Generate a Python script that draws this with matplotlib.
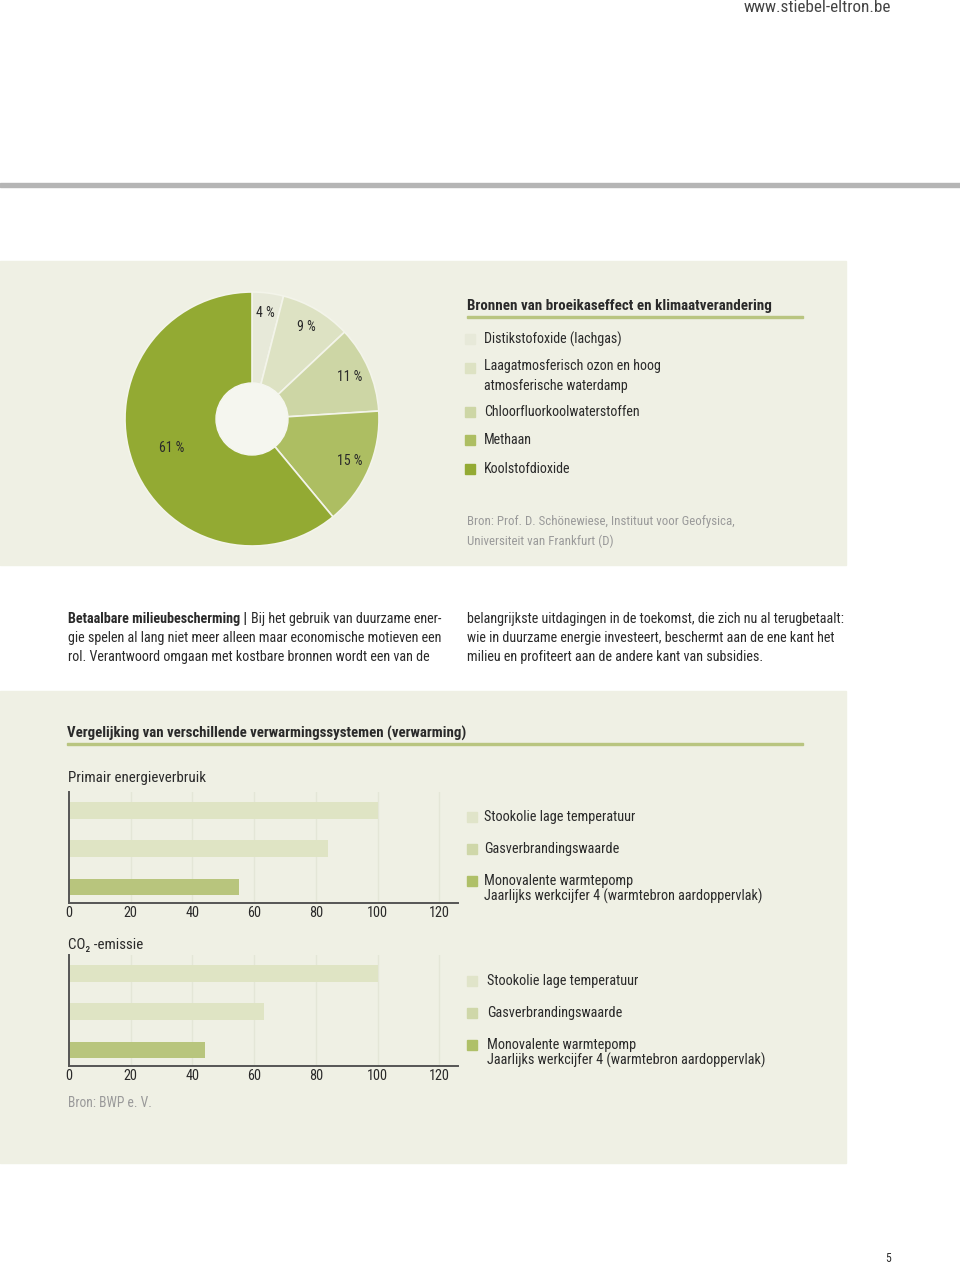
import matplotlib
matplotlib.use('Agg')
import matplotlib.pyplot as plt
from matplotlib import font_manager as fm
from matplotlib.patches import Rectangle, Circle
import numpy as np

# pie data
pie_labels = ['Distikstofoxide (lachgas)',
              'Laagatmosferisch ozon en hoog\natmosferische waterdamp',
              'Chloorfluorkoolwaterstoffen', 'Methaan', 'Koolstofdioxide']
pie_values = [4, 9, 11, 15, 61]
pie_colors = ['#e7e9d9', '#dde2c3', '#cdd6a5', '#adbe62', '#93aa33']

# bar data
systems = ['Stookolie lage temperatuur', 'Gasverbrandingswaarde',
           'Monovalente warmtepomp\nJaarlijks werkcijfer 4 (warmtebron aardoppervlak)']
primary_energy = [100, 84, 55]
co2_emission = [100, 63, 44]
bar_colors = ['#dfe4c4', '#dfe4c4', '#b8c57d']
legend_colors = ['#e0e4c9', '#cfd7a9', '#afc068']
xticks = [0, 20, 40, 60, 80, 100, 120]

names = {f.name for f in fm.fontManager.ttflist}
FONT = 'DejaVu Sans'
for cand in ['Liberation Sans Narrow', 'DejaVu Sans Condensed', 'Roboto Condensed', 'Liberation Sans']:
    if cand in names:
        FONT = cand
        break
plt.rcParams['font.family'] = [FONT, 'DejaVu Sans']

W, H = 960, 1263
BG = '#eff0e4'
fig = plt.figure(figsize=(W / 100, H / 100), dpi=100)
fig.patch.set_facecolor('white')


def fx(x):
    return x / W


def fy(y):
    return 1 - y / H


def txt(x, y, s, **kw):
    kw.setdefault('va', 'center')
    kw.setdefault('fontsize', 10.1)
    kw.setdefault('color', '#2a2a2a')
    return fig.text(fx(x), fy(y), s, **kw)


def rect(x0, y0, x1, y1, color, z=-1):
    fig.patches.append(Rectangle((fx(x0), fy(y1)), (x1 - x0) / W, (y1 - y0) / H,
                                 transform=fig.transFigure, color=color, zorder=z))


# page furniture
txt(891, 7, 'www.stiebel-eltron.be', ha='right', fontsize=12.3, color='#444')
rect(0, 183, 960, 187, '#b5b5b5')
rect(0, 261, 846, 565, BG, -2)
rect(0, 691, 846, 1163, BG, -2)
txt(888, 1259, '5', ha='center', fontsize=8.5)

# pie chart
cx, cy, R = 252, 419, 127
axp = fig.add_axes([fx(cx - R), fy(cy + R), 2 * R / W, 2 * R / H])
axp.set_facecolor('none')
wedges, _ = axp.pie(pie_values, colors=pie_colors, startangle=90, counterclock=False,
                    wedgeprops=dict(edgecolor='#f3f4ea', linewidth=1.2))
axp.add_patch(Circle((0, 0), 36 / R, color='#f5f6ef', zorder=5))
axp.set_xlim(-1, 1)
axp.set_ylim(-1, 1)
axp.set_aspect('equal')
for w, v in zip(wedges, pie_values):
    ang = np.deg2rad((w.theta1 + w.theta2) / 2)
    r = 0.67 if v > 50 else 0.84
    axp.text(r * np.cos(ang), r * np.sin(ang), f'{v} %', ha='center', va='center',
             fontsize=10, color='#2a2a2a', zorder=6)

# pie legend
txt(467, 306, 'Bronnen van broeikaseffect en klimaatverandering', fontweight='bold', fontsize=10.8)
rect(467, 316, 803, 318, '#b9c580')
leg_y = [339, 376, 412, 440, 469]
sq_y = [339, 368, 412, 440, 469]
for yy, sy, lab, c in zip(leg_y, sq_y, pie_labels, pie_colors):
    rect(465, sy - 5, 475, sy + 5, c)
    txt(484, yy, lab, linespacing=1.5)
txt(467, 522, 'Bron: Prof. D. Schönewiese, Instituut voor Geofysica,', color='#9a9a9a', fontsize=9.3)
txt(467, 541, 'Universiteit van Frankfurt (D)', color='#9a9a9a', fontsize=9.3)

# body text
BODY = 10.2
renderer = fig.canvas.get_renderer()
t = txt(68, 619, 'Betaalbare milieubescherming |', fontweight='bold', fontsize=BODY)
bb = t.get_window_extent(renderer)
txt(bb.x1 + 4, 619, 'Bij het gebruik van duurzame ener-', fontsize=BODY)
txt(68, 638, 'gie spelen al lang niet meer alleen maar economische motieven een', fontsize=BODY)
txt(68, 657, 'rol. Verantwoord omgaan met kostbare bronnen wordt een van de', fontsize=BODY)
txt(467, 619, 'belangrijkste uitdagingen in de toekomst, die zich nu al terugbetaalt:', fontsize=BODY)
txt(467, 638, 'wie in duurzame energie investeert, beschermt aan de ene kant het', fontsize=BODY)
txt(467, 657, 'milieu en profiteert aan de andere kant van subsidies.', fontsize=BODY)

# bar section
txt(67, 733, 'Vergelijking van verschillende verwarmingssystemen (verwarming)',
    fontweight='bold', fontsize=10.75)
rect(67, 743, 803, 745, '#b9c580')


def bar_chart(top, bottom, values, title, title_y, leg_text_x, leg_sq_y, leg_txt_y):
    ax = fig.add_axes([fx(69), fy(bottom), (458 - 69) / W, (bottom - top) / H])
    ax.set_facecolor('none')
    pos = np.arange(len(values))
    ax.barh(pos, values, height=0.43, color=bar_colors, zorder=2)
    ax.set_xlim(0, 126)
    ax.set_ylim(2.42, -0.48)
    ax.set_xticks(xticks)
    ax.tick_params(axis='x', length=0, pad=2, labelsize=10.3, labelcolor='#2a2a2a')
    ax.set_yticks([])
    for s in ['top', 'right']:
        ax.spines[s].set_visible(False)
    for s in ['left', 'bottom']:
        ax.spines[s].set_color('#555555')
        ax.spines[s].set_linewidth(1.4)
        ax.spines[s].set_zorder(4)
    for xv in xticks[1:]:
        ax.axvline(xv, color='#e4e6d7', linewidth=1, zorder=1)
    txt(68, title_y, title, fontsize=10.8)
    for sy, ty, lab, c in zip(leg_sq_y, leg_txt_y, systems, legend_colors):
        rect(467, sy - 5, 477, sy + 5, c)
        txt(leg_text_x, ty, lab, linespacing=1.1, fontsize=10.3)


bar_chart(792, 903, primary_energy, 'Primair energieverbruik', 778, 484,
          [817, 849, 881], [817, 849, 889])
bar_chart(955, 1066, co2_emission, 'CO₂ -emissie', 945, 487,
          [981, 1013, 1045], [981, 1013, 1053])
txt(68, 1103, 'Bron: BWP e. V.', color='#9a9a9a', fontsize=9.8)

fig.savefig('out.png', dpi=100, facecolor='white')
